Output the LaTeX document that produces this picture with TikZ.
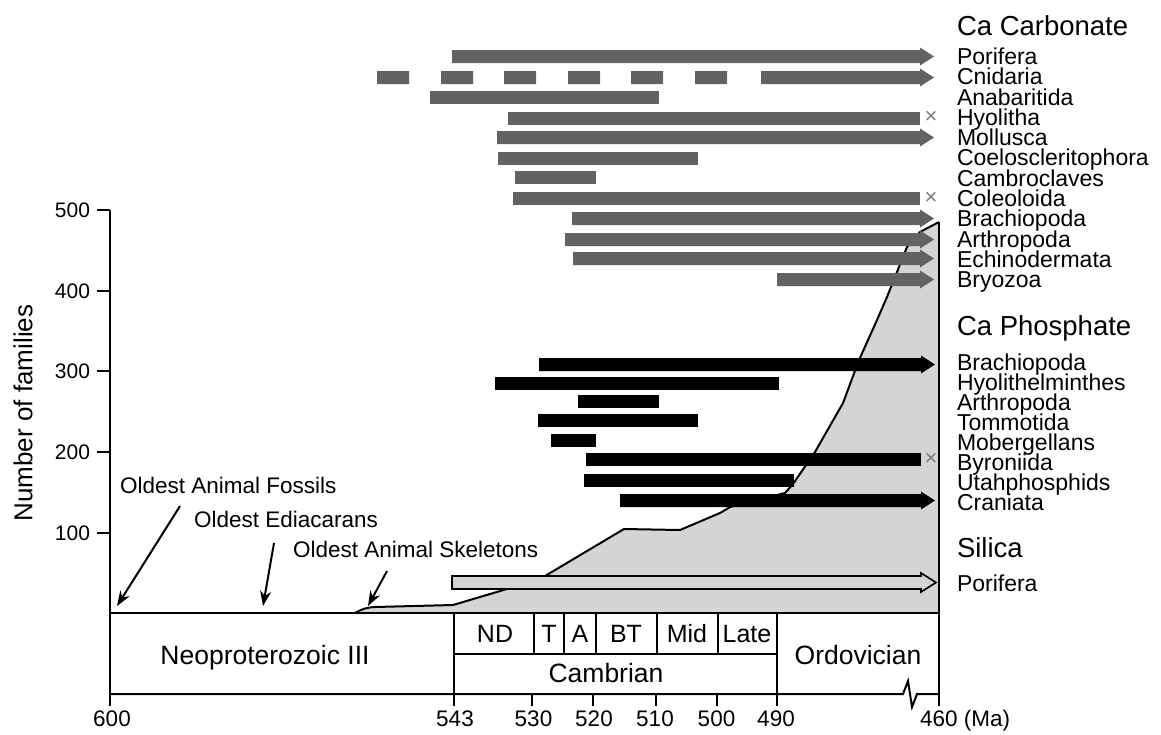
\documentclass[tikz,border=0pt]{standalone}
\usepackage{fontspec}
\setmainfont{Liberation Sans}
\usetikzlibrary{arrows.meta}
\definecolor{carbgray}{HTML}{626262}
\definecolor{areagray}{HTML}{D4D4D4}
\definecolor{extgray}{HTML}{7A7A7A}

\begin{document}
\begin{tikzpicture}[x={(1pt,0pt)}, y={(0pt,-1pt)}, line width=2pt,
  >={Stealth[length=15pt,width=11pt]}]
 \tikzstyle{famlabel} = [anchor=west,inner sep=0,font=\fontsize{23}{23}\selectfont,text height=16.5pt,text depth=0pt]
 \tikzstyle{grouplabel} = [anchor=west,inner sep=0,font=\fontsize{27.5}{27.5}\selectfont,text height=19.7pt,text depth=0pt]
 \tikzstyle{note} = [anchor=west,inner sep=0,font=\fontsize{22.5}{22.5}\selectfont,text height=16.1pt,text depth=0pt]
 \tikzstyle{ticklabel} = [inner sep=0,font=\fontsize{21}{21}\selectfont,text height=15pt,text depth=0pt]
 \tikzstyle{period} = [inner sep=0,font=\fontsize{26.5}{26.5}\selectfont,text height=19pt,text depth=0pt]
 \tikzstyle{stage} = [inner sep=0,font=\fontsize{25}{25}\selectfont,text height=17.9pt,text depth=0pt]
 \tikzstyle{extinct} = [inner sep=0,text=extgray,font=\fontsize{22}{22}\selectfont]
 \tikzstyle{carbbar} = [fill=carbgray]
 \tikzstyle{phosbar} = [fill=black]
 \tikzstyle{silbar} = [draw=black,fill=areagray,line width=1.6pt,line join=miter]

 \useasboundingbox (0,0) rectangle (1161,734);

% Diversity curve
 \fill[areagray] (355,613) .. controls (362,609) and (366,607.5) .. (375,607) -- (453,605)
   -- (527,583) -- (545,576) -- (624,529) -- (680,530) -- (720,513) -- (730,507)
   -- (785,493) -- (793,484) -- (815,452) -- (843,403) -- (859,360) -- (877,320)
   -- (887,297) -- (907,247) -- (920,232) -- (939,222) -- (939,613) -- cycle;
 \draw (355,613) .. controls (362,609) and (366,607.5) .. (375,607) -- (453,605)
   -- (527,583) -- (545,576) -- (624,529) -- (680,530) -- (720,513) -- (730,507)
   -- (785,493) -- (793,484) -- (815,452) -- (843,403) -- (859,360) -- (877,320)
   -- (887,297) -- (907,247) -- (920,232) -- (939,222);

% Ca carbonate ranges
 \fill[carbbar] (452,50) rectangle (920,63) (920,47.5) -- (934,56.5) -- (920,65.5) -- cycle;
 \fill[carbbar] (377,71) rectangle (409,84) (441,71) rectangle (473,84) (504,71) rectangle (536,84)
   (568,71) rectangle (600,84) (631,71) rectangle (663,84) (695,71) rectangle (727,84);
 \fill[carbbar] (761,71) rectangle (920,84) (920,68.5) -- (934,77.5) -- (920,86.5) -- cycle;
 \fill[carbbar] (430,90.5) rectangle (659,103.5);
 \fill[carbbar] (508,111.5) rectangle (920,124.5);
 \fill[carbbar] (497,131) rectangle (920,144) (920,128.5) -- (934,137.5) -- (920,146.5) -- cycle;
 \fill[carbbar] (498,152) rectangle (698,165);
 \fill[carbbar] (515,171) rectangle (596,184);
 \fill[carbbar] (513,192) rectangle (920,205);
 \fill[carbbar] (572,212) rectangle (920,225) (920,209.5) -- (934,218.5) -- (920,227.5) -- cycle;
 \fill[carbbar] (565,233) rectangle (920,246) (920,230.5) -- (934,239.5) -- (920,248.5) -- cycle;
 \fill[carbbar] (573,252) rectangle (920,265) (920,249.5) -- (934,258.5) -- (920,267.5) -- cycle;
 \fill[carbbar] (777,273) rectangle (920,286) (920,270.5) -- (934,279.5) -- (920,288.5) -- cycle;
 \node[extinct] (x1) at (931,117.5) {×};
 \node[extinct] (x2) at (931,198) {×};

% Ca phosphate ranges
 \fill[phosbar] (539,358) rectangle (921,371) (921,355.5) -- (935,364.5) -- (921,373.5) -- cycle;
 \fill[phosbar] (495,377) rectangle (779,390);
 \fill[phosbar] (578,395) rectangle (659,408);
 \fill[phosbar] (538,414) rectangle (698,427);
 \fill[phosbar] (551,434) rectangle (596,447);
 \fill[phosbar] (586,453) rectangle (921,466);
 \fill[phosbar] (584,474) rectangle (794,487);
 \fill[phosbar] (620,494) rectangle (921,507) (921,491.5) -- (935,500.5) -- (921,509.5) -- cycle;
 \node[extinct] (x3) at (931,459.5) {×};

% Silica
 \draw[silbar] (452,576) -- (921,576) -- (921,573) -- (936,582.5) -- (921,592) -- (921,589) -- (452,589) -- cycle;

% Axes and time scale
 \draw (110,210) -- (110,706);
 \draw (97,210) -- (110,210) (97,291) -- (110,291) (97,371) -- (110,371)
   (97,452) -- (110,452) (97,533) -- (110,533);
 \draw (110,613) -- (939,613);
 \draw (939,222) -- (939,706);
 \draw (110,694) -- (903,694) -- (908,681) -- (912,707) -- (917,694) -- (939,694);
 \draw (454,613) -- (454,706);
 \draw (777,613) -- (777,706);
 \draw (454,654) -- (777,654);
 \draw (534,613) -- (534,654) (564,613) -- (564,654) (596,613) -- (596,654)
   (657,613) -- (657,654) (718,613) -- (718,654);
 \draw (532,694) -- (532,706) (593,694) -- (593,706) (656,694) -- (656,706) (717,694) -- (717,706);

% Axis labels
 \node[ticklabel,anchor=east] (y500) at (91,210) {500};
 \node[ticklabel,anchor=east] (y400) at (91,291) {400};
 \node[ticklabel,anchor=east] (y300) at (91,371) {300};
 \node[ticklabel,anchor=east] (y200) at (91,452) {200};
 \node[ticklabel,anchor=east] (y100) at (91,533) {100};
 \node[inner sep=0,font=\fontsize{26}{26}\selectfont,text height=18.6pt,text depth=0pt,rotate=90] (ylabel) at (23,413) {Number of families};

 \node[ticklabel,font=\fontsize{22.5}{22.5}\selectfont] (t600) at (112,719) {600};
 \node[ticklabel,font=\fontsize{22.5}{22.5}\selectfont] (t543) at (455,719) {543};
 \node[ticklabel,font=\fontsize{22.5}{22.5}\selectfont] (t530) at (533.5,719) {530};
 \node[ticklabel,font=\fontsize{22.5}{22.5}\selectfont] (t520) at (594,719) {520};
 \node[ticklabel,font=\fontsize{22.5}{22.5}\selectfont] (t510) at (655,719) {510};
 \node[ticklabel,font=\fontsize{22.5}{22.5}\selectfont] (t500) at (716.5,719) {500};
 \node[ticklabel,font=\fontsize{22.5}{22.5}\selectfont] (t490) at (776,719) {490};
 \node[ticklabel,font=\fontsize{22.5}{22.5}\selectfont,anchor=west] (t460) at (919,719) {460 (Ma)};

% Periods and stages
 \node[period] (neo) at (265,654.5) {Neoproterozoic III};
 \node[period] (camb) at (606,673) {Cambrian};
 \node[period] (ordo) at (858,655) {Ordovician};
 \node[stage] (nd) at (495,634) {ND};
 \node[stage] (tom) at (549,634) {T};
 \node[stage] (atd) at (580,634) {A};
 \node[stage] (bt) at (626,634) {BT};
 \node[stage] (mid) at (687,634) {Mid};
 \node[stage] (late) at (747,634) {Late};

% Oldest records
 \node[note] (fossils) at (119,485.5) {Oldest Animal Fossils};
 \node[note] (ediac) at (193,519.5) {Oldest Ediacarans};
 \node[note] (skel) at (292,549.5) {Oldest Animal Skeletons};
 \coordinate (fossilsend) at (117,606);
 \coordinate (ediacend) at (263,606);
 \coordinate (skelend) at (368,606);
 \draw[->] ([xshift=61pt,yshift=-11.5pt]fossils.south west) -- (fossilsend);
 \draw[->] ([xshift=81pt,yshift=-14.5pt]ediac.south west) -- (ediacend);
 \draw[->] ([xshift=95pt,yshift=-12.5pt]skel.south west) -- (skelend);

% Groups
 \node[grouplabel] (carb) at (956,25.8) {Ca Carbonate};
 \node[famlabel] (c1) at (956,56.2) {Porifera};
 \node[famlabel] (c2) at (956,76.5) {Cnidaria};
 \node[famlabel] (c3) at (956,96.8) {Anabaritida};
 \node[famlabel] (c4) at (956,117.1) {Hyolitha};
 \node[famlabel] (c5) at (956,137.4) {Mollusca};
 \node[famlabel] (c6) at (956,157.7) {Coeloscleritophora};
 \node[famlabel] (c7) at (956,178) {Cambroclaves};
 \node[famlabel] (c8) at (956,198.3) {Coleoloida};
 \node[famlabel] (c9) at (956,218.6) {Brachiopoda};
 \node[famlabel] (c10) at (956,238.9) {Arthropoda};
 \node[famlabel] (c11) at (956,259.2) {Echinodermata};
 \node[famlabel] (c12) at (956,279.5) {Bryozoa};

 \node[grouplabel] (phos) at (956,326) {Ca Phosphate};
 \node[famlabel] (p1) at (956,362) {Brachiopoda};
 \node[famlabel] (p2) at (956,382) {Hyolithelminthes};
 \node[famlabel] (p3) at (956,402) {Arthropoda};
 \node[famlabel] (p4) at (956,422) {Tommotida};
 \node[famlabel] (p5) at (956,442) {Mobergellans};
 \node[famlabel] (p6) at (956,462) {Byroniida};
 \node[famlabel] (p7) at (956,482) {Utahphosphids};
 \node[famlabel] (p8) at (956,502) {Craniata};

 \node[grouplabel] (sil) at (956,547.5) {Silica};
 \node[famlabel] (s1) at (956,583) {Porifera};

\end{tikzpicture}
\end{document}
